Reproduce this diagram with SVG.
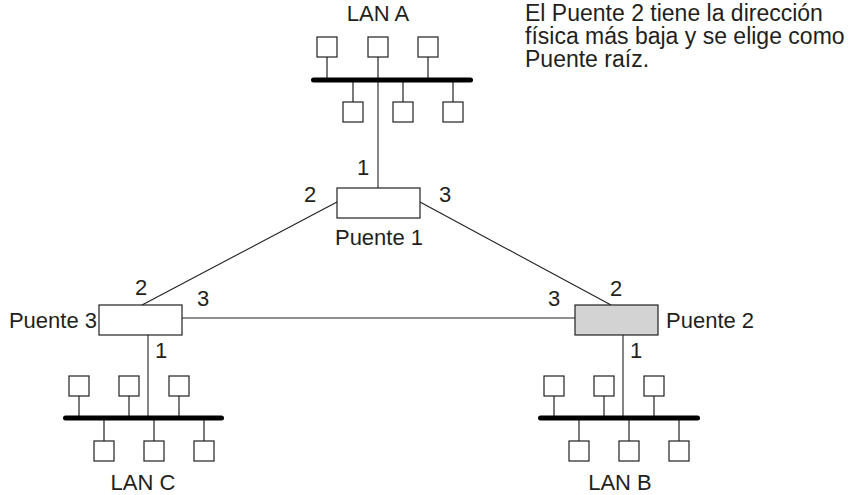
<svg xmlns="http://www.w3.org/2000/svg" width="850" height="495" viewBox="0 0 850 495">
  <style>
    text { font-family: "Liberation Sans", Arial, Helvetica, sans-serif; font-size: 22px; fill: #231f20; }
    .mid { text-anchor: middle; }
    .end { text-anchor: end; }
    .bus { stroke: #000; stroke-width: 5; stroke-linecap: round; fill: none; }
    .stem { stroke: #231f20; stroke-width: 1.2; fill: none; }
    .host { fill: #fff; stroke: #231f20; stroke-width: 1.2; }
    .bridge { fill: #fff; stroke: #231f20; stroke-width: 1.2; }
    .root { fill: #d3d3d3; }
    .link { stroke: #231f20; stroke-width: 1.1; fill: none; }
  </style>
  <defs>
    <!-- a station hanging above the bus (stem goes down) -->
    <g id="hostUp">
      <line class="stem" x1="10" y1="20" x2="10" y2="43"/>
      <rect class="host" x="0" y="0" width="20" height="20"/>
    </g>
    <!-- a station hanging below the bus (stem goes up) -->
    <g id="hostDown">
      <line class="stem" x1="10" y1="-22" x2="10" y2="0"/>
      <rect class="host" x="0" y="0" width="20" height="20"/>
    </g>
  </defs>

  <rect width="850" height="495" fill="#fff"/>

  <!-- links between bridges and LANs -->
  <g id="connectors">
    <line class="link" x1="378" y1="80" x2="378" y2="188"/>
    <line class="link" x1="337" y1="202" x2="142" y2="305"/>
    <line class="link" x1="420" y1="202" x2="611" y2="305"/>
    <line class="link" x1="182" y1="318" x2="575" y2="318"/>
    <line class="link" x1="148" y1="335" x2="148" y2="418"/>
    <line class="link" x1="623" y1="335" x2="623" y2="418"/>
  </g>

  <!-- LAN A -->
  <g id="lanA">
    <text class="mid" x="378" y="21">LAN A</text>
    <use href="#hostUp" x="317" y="37"/>
    <use href="#hostUp" x="368" y="37"/>
    <use href="#hostUp" x="418" y="37"/>
    <use href="#hostDown" x="343" y="102"/>
    <use href="#hostDown" x="393" y="102"/>
    <use href="#hostDown" x="443" y="102"/>
    <line class="bus" x1="313.5" y1="80" x2="470.5" y2="80"/>
  </g>

  <!-- LAN C -->
  <g id="lanC">
    <use href="#hostUp" x="69" y="376"/>
    <use href="#hostUp" x="119" y="376"/>
    <use href="#hostUp" x="169" y="376"/>
    <use href="#hostDown" x="94" y="441"/>
    <use href="#hostDown" x="144" y="441"/>
    <use href="#hostDown" x="194" y="441"/>
    <line class="bus" x1="65.5" y1="418" x2="221.5" y2="418"/>
    <text class="mid" x="143" y="490">LAN C</text>
  </g>

  <!-- LAN B -->
  <g id="lanB">
    <use href="#hostUp" x="544" y="376"/>
    <use href="#hostUp" x="594" y="376"/>
    <use href="#hostUp" x="644" y="376"/>
    <use href="#hostDown" x="569" y="441"/>
    <use href="#hostDown" x="619" y="441"/>
    <use href="#hostDown" x="669" y="441"/>
    <line class="bus" x1="540.5" y1="418" x2="697.5" y2="418"/>
    <text class="mid" x="620" y="490">LAN B</text>
  </g>

  <!-- Bridge 1 -->
  <g id="puente1">
    <rect class="bridge" x="337" y="188" width="83" height="30"/>
    <text class="mid" x="379" y="245">Puente 1</text>
    <text class="mid" x="363" y="175">1</text>
    <text class="mid" x="310" y="202">2</text>
    <text class="mid" x="445" y="202">3</text>
  </g>

  <!-- Bridge 3 -->
  <g id="puente3">
    <rect class="bridge" x="99" y="305" width="83" height="30"/>
    <text class="end" x="97" y="328">Puente 3</text>
    <text class="mid" x="161" y="358">1</text>
    <text class="mid" x="141" y="295">2</text>
    <text class="mid" x="203" y="306">3</text>
  </g>

  <!-- Bridge 2 (root bridge) -->
  <g id="puente2">
    <rect class="bridge root" x="575" y="305" width="83" height="30"/>
    <text x="666" y="328">Puente 2</text>
    <text class="mid" x="636" y="358">1</text>
    <text class="mid" x="616" y="296">2</text>
    <text class="mid" x="554" y="306">3</text>
  </g>

  <!-- Note -->
  <g id="note">
    <text x="525" y="21" style="font-size:23px">El Puente 2 tiene la dirección</text>
    <text x="525" y="44" style="font-size:23px">física más baja y se elige como</text>
    <text x="525" y="67" style="font-size:23px">Puente raíz.</text>
  </g>
</svg>
